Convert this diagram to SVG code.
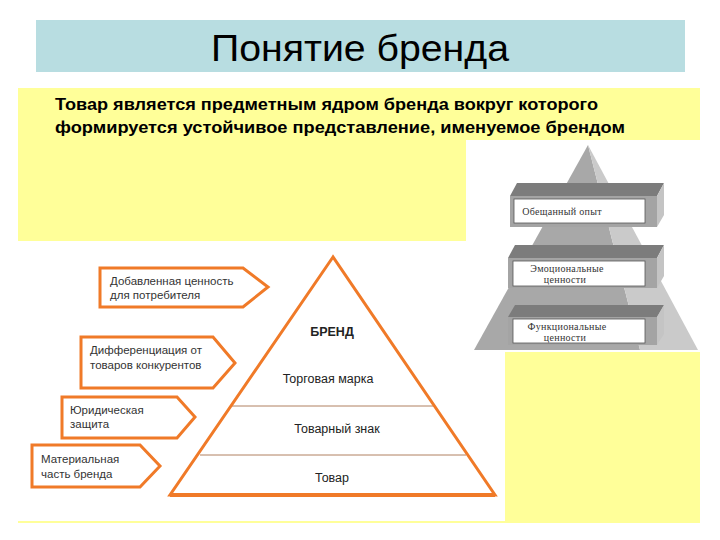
<svg xmlns="http://www.w3.org/2000/svg" width="720" height="540" viewBox="0 0 720 540">
<style>
.title{font-family:"Liberation Sans",Arial,sans-serif;font-size:37px;fill:#000}
.lead{font-family:"Liberation Sans",Arial,sans-serif;font-size:17px;font-weight:bold;fill:#000}
.tri{font-family:"Liberation Sans",Arial,sans-serif;font-size:12.5px;fill:#222}
.lbl{font-family:"Liberation Sans",Arial,sans-serif;font-size:11.5px;fill:#333}
.pent{fill:#fff;stroke:#f07a28;stroke-width:3;stroke-linejoin:miter}
.ser{font-family:"Liberation Serif","Times New Roman",serif;font-size:10px;fill:#333;letter-spacing:0.3px}
.top{fill:#7c7c7c}
.front{fill:#a4a4a4}
.side{fill:#c4c4c4}
.inner{fill:#fff;stroke:#555;stroke-width:0.8}
</style>
<rect x="0" y="0" width="720" height="540" fill="#fff"/>
<g id="title">
<rect x="36" y="20" width="649" height="52" fill="#b8dde1"/>
<text class="title" x="360" y="61" text-anchor="middle" textLength="298" lengthAdjust="spacingAndGlyphs">Понятие бренда</text>
</g>
<rect x="18" y="88" width="682" height="435" fill="#ffff99"/>
<g id="lead">
<text class="lead" x="55" y="110" textLength="543" lengthAdjust="spacingAndGlyphs">Товар является предметным ядром бренда вокруг которого</text>
<text class="lead" x="55" y="133" textLength="570" lengthAdjust="spacingAndGlyphs">формируется устойчивое представление, именуемое брендом</text>
</g>
<rect x="18" y="241" width="487" height="280" fill="#fff"/>
<rect x="466" y="140" width="234" height="212" fill="#fff"/>
<g id="right-pyramid">
<polygon points="588,145 474,350 640,350" fill="#a8a8a8"/>
<polygon points="588,145 640,350 698,350" fill="#cacaca"/>
<g id="slab1">
<polygon class="top" points="517,183 664,183 657,196 510,196"/>
<rect class="front" x="510" y="196" width="147" height="31"/>
<polygon class="side" points="657,196 664,183 664,215 657,227"/>
<rect class="inner" x="514" y="199" width="131" height="24"/>
<text class="ser" x="562" y="215" text-anchor="middle">Обещанный опыт</text>
</g>
<g id="slab2">
<polygon class="top" points="515,245 664,245 657,258 508,258"/>
<rect class="front" x="508" y="258" width="149" height="30"/>
<polygon class="side" points="657,258 664,245 664,276 657,288"/>
<rect class="inner" x="513" y="261" width="132" height="25"/>
<text class="ser" x="567" y="272" text-anchor="middle">Эмоциональные</text>
<text class="ser" x="565" y="283" text-anchor="middle">ценности</text>
</g>
<g id="slab3">
<polygon class="top" points="515,305 664,305 657,317 508,317"/>
<rect class="front" x="508" y="317" width="149" height="28"/>
<polygon class="side" points="657,317 664,305 664,334 657,345"/>
<rect class="inner" x="513" y="319" width="132" height="24"/>
<text class="ser" x="567" y="330" text-anchor="middle">Функциональные</text>
<text class="ser" x="565" y="341" text-anchor="middle">ценности</text>
</g>
</g>
<g id="brand-pyramid">
<line x1="231" y1="406" x2="434" y2="406" stroke="#b08060" stroke-width="1"/>
<line x1="200" y1="455" x2="466" y2="455" stroke="#b08060" stroke-width="1"/>
<polygon points="333,257 170,495 495,495" fill="none" stroke="#f07a28" stroke-width="3" stroke-linejoin="miter"/>
<line x1="170" y1="495" x2="495" y2="495" stroke="#f07a28" stroke-width="4"/>
<text class="tri" x="332" y="336" text-anchor="middle" font-weight="bold">БРЕНД</text>
<text class="tri" x="328" y="383" text-anchor="middle">Торговая марка</text>
<text class="tri" x="337" y="433" text-anchor="middle">Товарный знак</text>
<text class="tri" x="332" y="482" text-anchor="middle">Товар</text>
</g>
<g id="label1">
<polygon class="pent" points="100,268 243,268 268,287 243,307 100,307"/>
<text class="lbl" x="110" y="285">Добавленная ценность</text>
<text class="lbl" x="110" y="299">для потребителя</text>
</g>
<g id="label2">
<polygon class="pent" points="81,337 213,337 235,363 213,388 81,388"/>
<text class="lbl" x="90" y="354">Дифференциация от</text>
<text class="lbl" x="90" y="369">товаров конкурентов</text>
</g>
<g id="label3">
<polygon class="pent" points="62,397 177,397 195,417 177,438 62,438"/>
<text class="lbl" x="70" y="414">Юридическая</text>
<text class="lbl" x="70" y="428">защита</text>
</g>
<g id="label4">
<polygon class="pent" points="32,445 140,445 160,466 140,487 32,487"/>
<text class="lbl" x="41" y="463">Материальная</text>
<text class="lbl" x="41" y="478">часть бренда</text>
</g>
</svg>
